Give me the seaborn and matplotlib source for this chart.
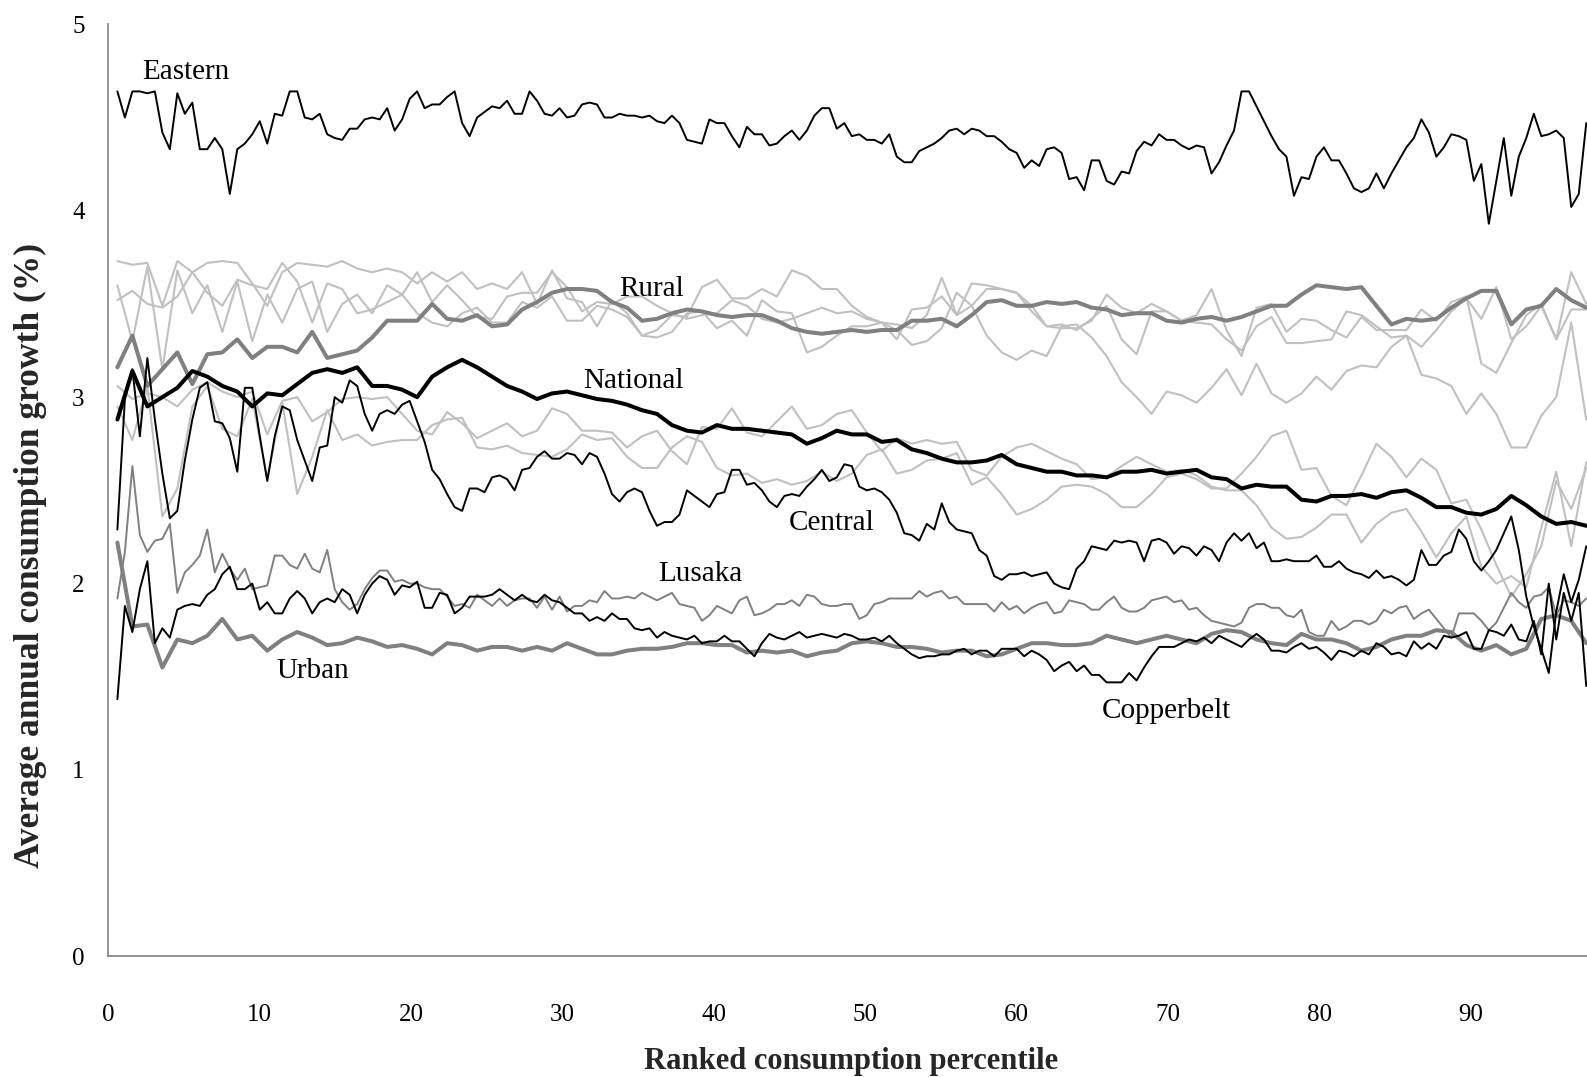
import numpy as np
import pandas as pd
import matplotlib
matplotlib.use("Agg")
import matplotlib.pyplot as plt
import seaborn as sns

# ---------------- data ----------------
# fine series: one value every ~0.5 percentile, starting at 0.6
eastern = [4.64, 4.50, 4.64, 4.64, 4.63, 4.64, 4.42, 4.33, 4.63, 4.52, 4.58, 4.33, 4.33, 4.39, 4.33, 4.09, 4.33, 4.36, 4.41, 4.48,
           4.36, 4.52, 4.51, 4.64, 4.64, 4.50, 4.49, 4.52, 4.41, 4.39, 4.38, 4.44, 4.44, 4.49, 4.50, 4.49, 4.55, 4.43, 4.49, 4.60,
           4.64, 4.55, 4.57, 4.57, 4.61, 4.64, 4.47, 4.40, 4.50, 4.53, 4.56, 4.55,
           4.59, 4.52, 4.52, 4.64, 4.59, 4.52, 4.51, 4.55, 4.50, 4.51, 4.57, 4.58, 4.57, 4.50, 4.50, 4.52, 4.51, 4.51, 4.50, 4.51,
           4.48, 4.47, 4.51, 4.47, 4.38, 4.37, 4.36, 4.49, 4.47, 4.47, 4.40, 4.34, 4.45, 4.41, 4.41, 4.35, 4.36, 4.40, 4.43, 4.38,
           4.43, 4.51, 4.55, 4.55, 4.44, 4.47, 4.40, 4.41, 4.38, 4.38, 4.36, 4.41,
           4.29, 4.26, 4.26, 4.32, 4.34, 4.36, 4.39, 4.43, 4.44, 4.41, 4.44, 4.43, 4.40, 4.40, 4.37, 4.33, 4.31, 4.23, 4.27, 4.24,
           4.33, 4.34, 4.31, 4.17, 4.18, 4.11, 4.27, 4.27, 4.16, 4.14, 4.21, 4.20, 4.32, 4.37, 4.35, 4.41, 4.38, 4.38, 4.35, 4.33,
           4.35, 4.34, 4.20, 4.26, 4.35, 4.43, 4.64, 4.64, 4.56, 4.48, 4.40, 4.33,
           4.29, 4.08, 4.18, 4.17, 4.29, 4.34, 4.27, 4.27, 4.20, 4.12, 4.10, 4.12, 4.20, 4.12, 4.20, 4.27, 4.34, 4.39, 4.49, 4.42,
           4.29, 4.34, 4.41, 4.40, 4.38, 4.16, 4.25, 3.93, 4.16, 4.39, 4.08, 4.29, 4.39, 4.52, 4.40, 4.41, 4.43, 4.39, 4.02, 4.09,
           4.47]

central = [2.29, 2.99, 3.15, 2.79, 3.21, 2.88, 2.59, 2.35, 2.39, 2.66, 2.88, 3.05, 3.08, 2.87, 2.86, 2.78, 2.60, 3.05, 3.05, 2.79,
           2.55, 2.79, 2.95, 2.93, 2.77, 2.66, 2.55, 2.73, 2.74, 3.00, 2.97, 3.09, 3.06, 2.91, 2.82, 2.91, 2.93, 2.91, 2.96, 2.98,
           2.87, 2.76, 2.61, 2.56, 2.48, 2.41, 2.39, 2.51, 2.51, 2.49, 2.57, 2.58,
           2.56, 2.50, 2.61, 2.62, 2.68, 2.71, 2.67, 2.67, 2.70, 2.69, 2.64, 2.70, 2.68, 2.59, 2.48, 2.44, 2.49, 2.51, 2.49, 2.39,
           2.31, 2.33, 2.33, 2.37, 2.50, 2.47, 2.44, 2.41, 2.48, 2.49, 2.61, 2.61, 2.53, 2.54, 2.50, 2.44, 2.41, 2.47, 2.48, 2.47,
           2.52, 2.56, 2.61, 2.55, 2.57, 2.64, 2.63, 2.52, 2.50, 2.51, 2.49, 2.45,
           2.38, 2.27, 2.26, 2.23, 2.32, 2.29, 2.43, 2.33, 2.29, 2.28, 2.27, 2.18, 2.15, 2.04, 2.02, 2.05, 2.05, 2.06, 2.04, 2.05,
           2.06, 2.00, 1.98, 1.97, 2.08, 2.12, 2.20, 2.19, 2.18, 2.23, 2.22, 2.23, 2.22, 2.12, 2.23, 2.24, 2.22, 2.16, 2.20, 2.19,
           2.15, 2.20, 2.18, 2.12, 2.22, 2.27, 2.23, 2.27, 2.19, 2.22, 2.12, 2.12,
           2.13, 2.12, 2.12, 2.12, 2.15, 2.09, 2.09, 2.12, 2.08, 2.06, 2.05, 2.03, 2.07, 2.03, 2.04, 2.02, 1.99, 2.02, 2.18, 2.10,
           2.10, 2.15, 2.17, 2.29, 2.24, 2.12, 2.07, 2.12, 2.18, 2.27, 2.36, 2.18, 1.93, 1.77, 1.65, 1.52, 1.85, 2.05, 1.90, 2.02,
           2.20]

copperbelt = [1.38, 1.88, 1.74, 1.97, 2.12, 1.68, 1.76, 1.71, 1.86, 1.88, 1.89, 1.88, 1.94, 1.97, 2.05, 2.09, 1.97, 1.97, 2.00, 1.86,
              1.90, 1.84, 1.84, 1.92, 1.96, 1.92, 1.84, 1.90, 1.92, 1.90, 1.97, 1.94, 1.84, 1.94, 2.00, 2.04, 2.02, 1.94, 1.99, 1.98,
              2.01, 1.87, 1.87, 1.95, 1.94, 1.84, 1.87, 1.93, 1.93, 1.93, 1.94, 1.97,
              1.94, 1.91, 1.94, 1.91, 1.90, 1.94, 1.91, 1.90, 1.87, 1.84, 1.84, 1.80, 1.82, 1.80, 1.84, 1.81, 1.81, 1.76, 1.75, 1.76,
              1.71, 1.74, 1.72, 1.71, 1.70, 1.72, 1.68, 1.69, 1.69, 1.72, 1.69, 1.69, 1.65, 1.61, 1.68, 1.73, 1.71, 1.70, 1.72, 1.74,
              1.71, 1.72, 1.73, 1.72, 1.71, 1.73, 1.72, 1.70, 1.70, 1.71, 1.69, 1.72,
              1.68, 1.65, 1.62, 1.60, 1.61, 1.61, 1.62, 1.62, 1.64, 1.65, 1.62, 1.64, 1.64, 1.61, 1.65, 1.65, 1.65, 1.61, 1.64, 1.62,
              1.59, 1.53, 1.56, 1.58, 1.53, 1.56, 1.51, 1.51, 1.47, 1.47, 1.47, 1.52, 1.48, 1.55, 1.61, 1.66, 1.66, 1.66, 1.68, 1.70,
              1.69, 1.71, 1.68, 1.72, 1.70, 1.68, 1.66, 1.70, 1.73, 1.70, 1.64, 1.64,
              1.63, 1.66, 1.68, 1.65, 1.66, 1.63, 1.59, 1.64, 1.63, 1.61, 1.64, 1.62, 1.68, 1.66, 1.62, 1.63, 1.61, 1.69, 1.65, 1.68,
              1.65, 1.72, 1.71, 1.72, 1.74, 1.65, 1.65, 1.75, 1.74, 1.72, 1.78, 1.70, 1.69, 1.80, 1.62, 2.00, 1.70, 1.95, 1.80, 1.95,
              1.45]

lusaka = [1.92, 2.17, 2.63, 2.26, 2.17, 2.23, 2.24, 2.32, 1.95, 2.06, 2.10, 2.15, 2.29, 2.06, 2.16, 2.08, 2.02, 2.08, 1.97, 1.98,
          1.99, 2.15, 2.15, 2.10, 2.08, 2.16, 2.08, 2.06, 2.18, 1.97, 1.90, 1.86, 1.89, 1.97, 2.03, 2.07, 2.07, 2.01, 2.02, 2.00,
          2.00, 1.98, 1.97, 1.97, 1.93, 1.88, 1.89, 1.87, 1.94, 1.91, 1.88, 1.92,
          1.88, 1.91, 1.92, 1.92, 1.87, 1.93, 1.86, 1.93, 1.85, 1.88, 1.88, 1.91, 1.90, 1.96, 1.92, 1.92, 1.93, 1.92, 1.95, 1.93,
          1.91, 1.93, 1.95, 1.89, 1.88, 1.87, 1.80, 1.83, 1.88, 1.86, 1.84, 1.91, 1.93, 1.83, 1.84, 1.86, 1.89, 1.89, 1.91, 1.88,
          1.94, 1.93, 1.89, 1.88, 1.88, 1.89, 1.89, 1.81, 1.83, 1.89, 1.90, 1.92,
          1.92, 1.92, 1.92, 1.96, 1.93, 1.95, 1.96, 1.92, 1.93, 1.89, 1.89, 1.89, 1.89, 1.85, 1.90, 1.86, 1.88, 1.84, 1.87, 1.89,
          1.90, 1.84, 1.85, 1.91, 1.90, 1.89, 1.86, 1.86, 1.90, 1.93, 1.87, 1.85, 1.85, 1.87, 1.91, 1.92, 1.93, 1.90, 1.91, 1.86,
          1.87, 1.83, 1.80, 1.79, 1.78, 1.77, 1.79, 1.87, 1.89, 1.89, 1.87, 1.87,
          1.83, 1.82, 1.86, 1.74, 1.72, 1.72, 1.80, 1.75, 1.77, 1.80, 1.80, 1.78, 1.80, 1.86, 1.84, 1.87, 1.88, 1.81, 1.84, 1.86,
          1.81, 1.76, 1.71, 1.84, 1.84, 1.84, 1.80, 1.75, 1.79, 1.87, 1.95, 1.90, 1.87, 1.93, 1.94, 1.98, 1.83, 1.91, 1.90, 1.88,
          1.92]

# coarse series: one value every ~1 percentile, starting at 0.6
national = [2.88, 3.14, 2.95, 3.00, 3.05, 3.14, 3.11, 3.06, 3.03, 2.95, 3.02, 3.01, 3.07, 3.13, 3.15, 3.13, 3.16, 3.06, 3.06, 3.04,
            3.00, 3.11, 3.16, 3.20, 3.16, 3.11,
            3.06, 3.03, 2.99, 3.02, 3.03, 3.01, 2.99, 2.98, 2.96, 2.93, 2.91, 2.85, 2.82, 2.81, 2.85, 2.83, 2.83, 2.82, 2.81, 2.80,
            2.75, 2.78, 2.82, 2.80, 2.80, 2.76,
            2.77, 2.72, 2.70, 2.67, 2.65, 2.65, 2.66, 2.69, 2.64, 2.62, 2.60, 2.60, 2.58, 2.58, 2.57, 2.60, 2.60, 2.61, 2.59, 2.60,
            2.61, 2.57, 2.56, 2.51, 2.53, 2.52,
            2.52, 2.45, 2.44, 2.47, 2.47, 2.48, 2.46, 2.49, 2.50, 2.46, 2.41, 2.41, 2.38, 2.37, 2.40, 2.47, 2.42, 2.36, 2.32, 2.33,
            2.31]

rural = [3.16, 3.33, 3.06, 3.15, 3.24, 3.07, 3.23, 3.24, 3.31, 3.21, 3.27, 3.27, 3.24, 3.35, 3.21, 3.23, 3.25, 3.32, 3.41, 3.41,
         3.41, 3.50, 3.42, 3.41, 3.44, 3.38,
         3.39, 3.47, 3.51, 3.56, 3.58, 3.58, 3.57, 3.51, 3.48, 3.41, 3.42, 3.45, 3.47, 3.46, 3.44, 3.43, 3.44, 3.44, 3.41, 3.37,
         3.35, 3.34, 3.35, 3.36, 3.35, 3.36,
         3.36, 3.41, 3.41, 3.42, 3.38, 3.44, 3.51, 3.52, 3.49, 3.49, 3.51, 3.50, 3.51, 3.48, 3.47, 3.44, 3.45, 3.45, 3.41, 3.40,
         3.42, 3.43, 3.41, 3.43, 3.46, 3.49,
         3.49, 3.55, 3.60, 3.59, 3.58, 3.59, 3.49, 3.39, 3.42, 3.41, 3.42, 3.48, 3.53, 3.57, 3.57, 3.39, 3.47, 3.49, 3.58, 3.52,
         3.48]

urban = [2.22, 1.77, 1.78, 1.55, 1.70, 1.68, 1.72, 1.81, 1.70, 1.72, 1.64, 1.70, 1.74, 1.71, 1.67, 1.68, 1.71, 1.69, 1.66, 1.67,
         1.65, 1.62, 1.68, 1.67, 1.64, 1.66,
         1.66, 1.64, 1.66, 1.64, 1.68, 1.65, 1.62, 1.62, 1.64, 1.65, 1.65, 1.66, 1.68, 1.68, 1.67, 1.67, 1.63, 1.64, 1.63, 1.64,
         1.61, 1.63, 1.64, 1.68, 1.69, 1.68,
         1.66, 1.66, 1.65, 1.63, 1.64, 1.64, 1.61, 1.62, 1.65, 1.68, 1.68, 1.67, 1.67, 1.68, 1.72, 1.70, 1.68, 1.70, 1.72, 1.70,
         1.68, 1.73, 1.75, 1.74, 1.70, 1.68,
         1.67, 1.73, 1.70, 1.70, 1.68, 1.64, 1.66, 1.70, 1.72, 1.72, 1.75, 1.74, 1.67, 1.64, 1.67, 1.62, 1.65, 1.81, 1.83, 1.80,
         1.68]

# other provinces (unlabelled light grey lines)
prov_a = [3.73, 3.71, 3.72, 3.49, 3.73, 3.67, 3.72, 3.73, 3.72, 3.61, 3.49, 3.67, 3.72, 3.71, 3.70, 3.73, 3.69, 3.67, 3.69, 3.67,
          3.61, 3.67, 3.62, 3.67, 3.58, 3.61,
          3.58, 3.67, 3.50, 3.68, 3.53, 3.51, 3.38, 3.52, 3.45, 3.33, 3.36, 3.44, 3.43, 3.59, 3.63, 3.53, 3.53, 3.58, 3.54, 3.68,
          3.65, 3.58, 3.58, 3.49, 3.43, 3.40,
          3.31, 3.47, 3.48, 3.54, 3.44, 3.61, 3.60, 3.58, 3.56, 3.49, 3.38, 3.37, 3.37, 3.41, 3.55, 3.48, 3.45, 3.50, 3.46, 3.41,
          3.44, 3.58, 3.36, 3.22, 3.48, 3.50,
          3.35, 3.42, 3.41, 3.36, 3.32, 3.43, 3.36, 3.36, 3.36, 3.47, 3.41, 3.51, 3.54, 3.18, 3.13, 3.29, 3.44, 3.50, 3.31, 3.67,
          3.50]

prov_b = [3.60, 3.30, 3.70, 3.15, 3.68, 3.45, 3.60, 3.35, 3.62, 3.30, 3.55, 3.40, 3.58, 3.62, 3.35, 3.50, 3.55, 3.45, 3.60, 3.55,
          3.45, 3.40, 3.38, 3.45, 3.48, 3.40,
          3.40, 3.51, 3.48, 3.54, 3.41, 3.41, 3.49, 3.47, 3.43, 3.33, 3.32, 3.35, 3.45, 3.46, 3.37, 3.41, 3.33, 3.52, 3.46, 3.45,
          3.24, 3.27, 3.33, 3.38, 3.38, 3.40,
          3.36, 3.28, 3.30, 3.37, 3.56, 3.49, 3.33, 3.24, 3.20, 3.25, 3.22, 3.38, 3.39, 3.32, 3.22, 3.08, 3.00, 2.91, 3.03, 3.01,
          2.97, 3.05, 3.15, 3.01, 3.18, 3.02,
          2.97, 3.02, 3.11, 3.04, 3.14, 3.17, 3.16, 3.27, 3.33, 3.12, 3.10, 3.06, 2.91, 3.02, 2.91, 2.73, 2.73, 2.90, 3.00, 3.40,
          2.88]

prov_c = [3.52, 3.57, 3.50, 3.48, 3.54, 3.67, 3.56, 3.49, 3.63, 3.60, 3.58, 3.72, 3.62, 3.40, 3.61, 3.58, 3.45, 3.47, 3.51, 3.55,
          3.67, 3.51, 3.60, 3.52, 3.43, 3.42,
          3.54, 3.56, 3.56, 3.67, 3.59, 3.46, 3.51, 3.50, 3.54, 3.54, 3.49, 3.45, 3.42, 3.44, 3.45, 3.52, 3.49, 3.42, 3.40, 3.42,
          3.45, 3.48, 3.45, 3.46, 3.42, 3.40,
          3.39, 3.37, 3.44, 3.64, 3.44, 3.49, 3.58, 3.58, 3.56, 3.46, 3.38, 3.39, 3.36, 3.42, 3.49, 3.31, 3.23, 3.46, 3.46, 3.41,
          3.40, 3.39, 3.31, 3.25, 3.38, 3.43,
          3.29, 3.29, 3.30, 3.31, 3.46, 3.44, 3.38, 3.32, 3.33, 3.27, 3.36, 3.46, 3.53, 3.42, 3.59, 3.31, 3.38, 3.49, 3.31, 3.47,
          3.47]

prov_d = [2.95, 2.77, 3.06, 2.36, 2.51, 2.95, 3.06, 2.83, 2.79, 2.99, 2.56, 2.97, 2.48, 2.68, 2.93, 2.77, 2.80, 2.74, 2.76, 2.77,
          2.77, 2.85, 2.88, 2.89, 2.73, 2.72,
          2.74, 2.70, 2.69, 2.68, 2.72, 2.80, 2.77, 2.78, 2.68, 2.62, 2.62, 2.73, 2.79, 2.76, 2.62, 2.58, 2.59, 2.54, 2.56, 2.53,
          2.55, 2.60, 2.55, 2.59, 2.69, 2.72,
          2.59, 2.61, 2.66, 2.67, 2.70, 2.53, 2.57, 2.48, 2.37, 2.40, 2.45, 2.52, 2.53, 2.52, 2.48, 2.41, 2.41, 2.48, 2.57, 2.59,
          2.56, 2.51, 2.51, 2.59, 2.68, 2.79,
          2.82, 2.61, 2.62, 2.47, 2.42, 2.58, 2.75, 2.68, 2.57, 2.67, 2.61, 2.43, 2.45, 2.29, 2.10, 1.93, 2.05, 2.20, 2.55, 2.40,
          2.62]

prov_e = [3.06, 2.99, 3.02, 3.00, 2.95, 3.04, 3.08, 3.03, 3.00, 3.03, 2.80, 2.98, 3.00, 2.87, 2.92, 2.99, 3.00, 2.99, 3.00, 2.91,
          2.82, 2.80, 2.92, 2.86, 2.78, 2.82,
          2.86, 2.79, 2.82, 2.94, 2.91, 2.82, 2.82, 2.81, 2.73, 2.79, 2.82, 2.71, 2.64, 2.84, 2.83, 2.94, 2.81, 2.79, 2.87, 2.95,
          2.83, 2.85, 2.91, 2.93, 2.81, 2.71,
          2.78, 2.75, 2.77, 2.75, 2.76, 2.61, 2.58, 2.68, 2.73, 2.75, 2.71, 2.67, 2.64, 2.56, 2.57, 2.63, 2.68, 2.64, 2.60, 2.61,
          2.58, 2.52, 2.50, 2.50, 2.42, 2.30,
          2.24, 2.25, 2.30, 2.37, 2.37, 2.22, 2.32, 2.38, 2.40, 2.28, 2.14, 2.27, 2.36, 2.09, 2.00, 2.04, 1.98, 2.30, 2.60, 2.20,
          2.65]

x_ticks = [0, 10, 20, 30, 40, 50, 60, 70, 80, 90]
y_ticks = [0, 1, 2, 3, 4, 5]
labels = ["Eastern", "Rural", "National", "Central", "Lusaka", "Urban", "Copperbelt"]
label_x = [5.1, 35.9, 34.7, 47.8, 39.1, 13.5, 69.9]
label_y = [4.745, 3.578, 3.084, 2.323, 2.052, 1.531, 1.318]


def fine_x(n):
    return 0.6 + 0.495 * np.arange(n)


def coarse_x(n):
    return 0.6 + 0.99 * np.arange(n)


# ---------------- figure ----------------
sns.set_theme(style="white")
plt.rcParams['font.family'] = ['Liberation Serif', 'DejaVu Serif']

fig = plt.figure(figsize=(15.87, 10.77), dpi=100)
ax = fig.add_axes([0.06824, 0.11198, 0.93176, 0.86546])

LIGHT = "#c0c0c0"
MID = "#808080"

for s in [prov_a, prov_b, prov_c, prov_d, prov_e]:
    sns.lineplot(x=coarse_x(len(s)), y=s, ax=ax, color=LIGHT, linewidth=1.5,
                 estimator=None, sort=False)

sns.lineplot(x=fine_x(len(lusaka)), y=lusaka, ax=ax, color=MID, linewidth=1.4, estimator=None, sort=False)
sns.lineplot(x=coarse_x(len(urban)), y=urban, ax=ax, color=MID, linewidth=2.9, estimator=None, sort=False)
sns.lineplot(x=coarse_x(len(rural)), y=rural, ax=ax, color=MID, linewidth=2.9, estimator=None, sort=False)
sns.lineplot(x=fine_x(len(copperbelt)), y=copperbelt, ax=ax, color="black", linewidth=1.4, estimator=None, sort=False)
sns.lineplot(x=fine_x(len(central)), y=central, ax=ax, color="black", linewidth=1.4, estimator=None, sort=False)
sns.lineplot(x=fine_x(len(eastern)), y=eastern, ax=ax, color="black", linewidth=1.4, estimator=None, sort=False)
sns.lineplot(x=coarse_x(len(national)), y=national, ax=ax, color="black", linewidth=2.9, estimator=None, sort=False)

for t, lx, ly in zip(labels, label_x, label_y):
    ax.text(lx, ly, t, fontsize=21, ha="center", va="center", color="black")

ax.set_xlim(0, 97.67)
ax.set_ylim(0, 5)
ax.set_xticks(x_ticks)
ax.set_yticks(y_ticks)
ax.set_xticklabels([str(v) for v in x_ticks])
ax.set_yticklabels([str(v) for v in y_ticks])

for side in ["top", "right"]:
    ax.spines[side].set_visible(False)
for side in ["left", "bottom"]:
    ax.spines[side].set_color(MID)
    ax.spines[side].set_linewidth(1.2)

ax.tick_params(axis="x", direction="out", length=5, width=1.2, color=MID, labelsize=18, pad=29, labelcolor="black")
ax.tick_params(axis="y", direction="out", length=5, width=1.2, color=MID, labelsize=18, pad=12, labelcolor="black")
ax.set_xlabel("")
ax.set_ylabel("")
ax.grid(False)

fig.text(851 / 1587, 1 - 1061 / 1077, "Ranked consumption percentile", fontsize=22,
         fontweight="bold", ha="center", va="center")
fig.text(30.4 / 1587, 1 - 555.6 / 1077, "Average annual consumption growth (%)", fontsize=25.5,
         fontweight="bold", ha="center", va="center", rotation=90)

fig.savefig("out.png", dpi=100)
